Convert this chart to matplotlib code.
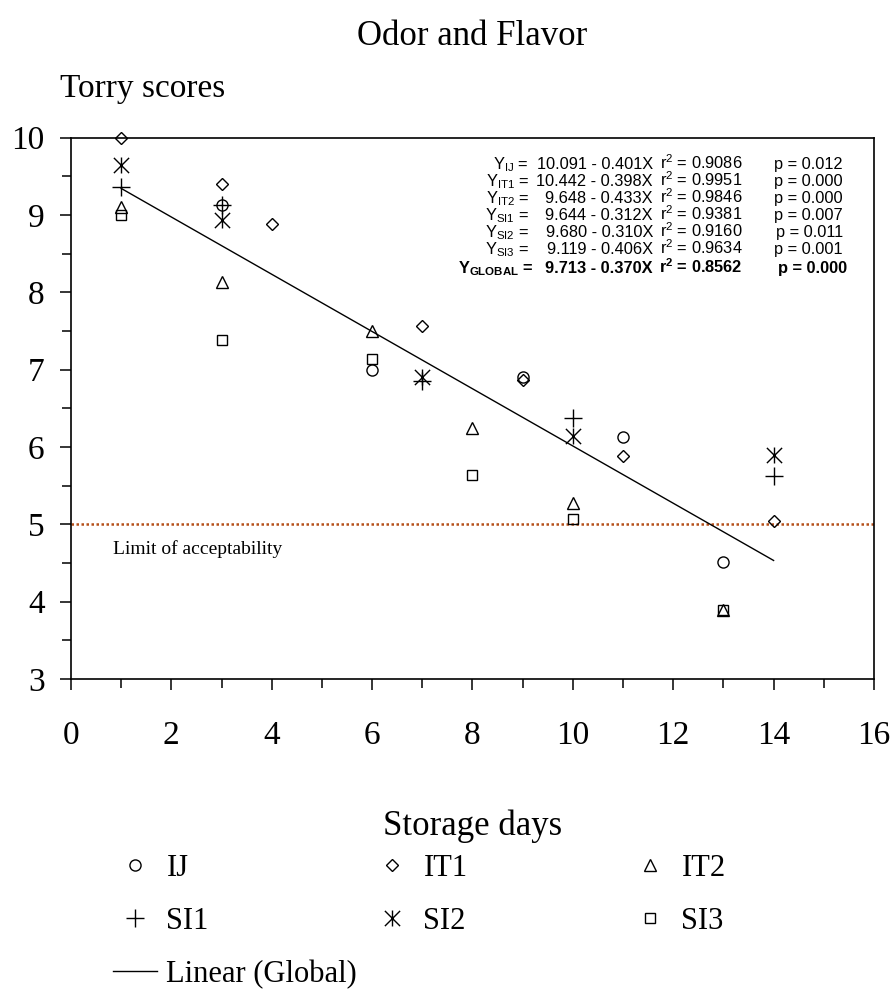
import numpy as np
import matplotlib.pyplot as plt
from matplotlib.path import Path
from matplotlib.ticker import MultipleLocator

plt.rcParams['font.family'] = ['Liberation Serif', 'DejaVu Serif']
plt.rcParams['mathtext.fontset'] = 'custom'
plt.rcParams['mathtext.rm'] = 'Liberation Sans'
plt.rcParams['mathtext.bf'] = 'Liberation Sans:bold'

#%% Data

ij_days = [3, 6, 9, 11, 13]
ij_score = [9.13, 7.00, 6.90, 6.13, 4.51]

it1_days = [1, 3, 4, 7, 9, 11, 14]
it1_score = [10.00, 9.40, 8.88, 7.56, 6.87, 5.88, 5.04]

it2_days = [1, 3, 6, 8, 10, 13]
it2_score = [9.10, 8.13, 7.50, 6.24, 5.27, 3.89]

si1_days = [1, 3, 7, 10, 14]
si1_score = [9.36, 9.13, 6.85, 6.37, 5.62]

si2_days = [1, 3, 7, 10, 14]
si2_score = [9.65, 8.93, 6.91, 6.14, 5.90]

si3_days = [1, 3, 6, 8, 10, 13]
si3_score = [9.00, 7.38, 7.14, 5.64, 5.07, 3.89]

# global regression
global_a = 9.713
global_b = -0.370
fit_days = [1, 14]

limit = 5.0

# regression table
eq_names = ['IJ', 'IT1', 'IT2', 'SI1', 'SI2', 'SI3']
eq_a = ['10.091', '10.442', '9.648', '9.644', '9.680', '9.119']
eq_b = ['0.401', '0.398', '0.433', '0.312', '0.310', '0.406']
eq_r2 = ['0.9086', '0.9951', '0.9846', '0.9381', '0.9160', '0.9634']
eq_p = ['0.012', '0.000', '0.000', '0.007', '0.011', '0.001']
glob_eq = ['GLOBAL', '9.713', '0.370', '0.8562', '0.000']

#%% Figure

# asterisk: an X with a vertical bar through it
star = Path([(-1, -1), (1, 1), (-1, 1), (1, -1), (0, -1.05), (0, 1.05)],
            [Path.MOVETO, Path.LINETO, Path.MOVETO, Path.LINETO,
             Path.MOVETO, Path.LINETO])

fig = plt.figure(figsize=(8.95, 9.89), dpi=100)
ax = fig.add_axes([0.0793, 0.3134, 0.8972, 0.5475])

mk = dict(ls='none', mfc='none', mec='k', mew=1.0, clip_on=False)

ax.axhline(limit, color='#b5501a', ls=(0, (1, 1)), lw=1.8, zorder=1)
ax.text(0.837, 4.62, 'Limit of acceptability', fontsize=14, va='baseline')

h_ij, = ax.plot(ij_days, ij_score, marker='o', ms=8, label='IJ', **mk)
h_it1, = ax.plot(it1_days, it1_score, marker='D', ms=6.3, label='IT1', **mk)
h_it2, = ax.plot(it2_days, it2_score, marker='^', ms=8.5, label='IT2', **mk)
h_si1, = ax.plot(si1_days, si1_score, marker='+', ms=12.5, label='SI1', **mk)
h_si2, = ax.plot(si2_days, si2_score, marker=star, ms=11.5, label='SI2', **mk)
h_si3, = ax.plot(si3_days, si3_score, marker='s', ms=7.5, label='SI3', **mk)

fit_y = [global_a + global_b * d for d in fit_days]
h_lin, = ax.plot(fit_days, fit_y, color='k', lw=1.0, label='Linear (Global)')

ax.set_xlim(0, 16)
ax.set_ylim(3, 10)
ax.xaxis.set_major_locator(MultipleLocator(2))
ax.xaxis.set_minor_locator(MultipleLocator(1))
ax.yaxis.set_major_locator(MultipleLocator(1))
ax.yaxis.set_minor_locator(MultipleLocator(0.5))
ax.tick_params(which='both', direction='out', width=1.1, labelsize=24)
ax.tick_params(which='major', length=8)
ax.tick_params(which='minor', length=6.5)
ax.tick_params(axis='x', pad=22)
ax.tick_params(axis='y', pad=11)
for sp in ax.spines.values():
    sp.set_linewidth(1.2)

ax.set_title('Odor and Flavor', fontsize=25, pad=67)
ax.text(-0.014, 1.0748, 'Torry scores', transform=ax.transAxes,
        fontsize=24, va='baseline', ha='left')
ax.set_xlabel('Storage days', fontsize=25, labelpad=42)

# equations block (axes fraction positions)
def fx(px):
    return (px - 71) / 803.0

def fy(py):
    return (679 - py) / 541.5

rows = [169, 186, 203, 220, 237, 254]
for i in range(len(eq_names)):
    y = fy(rows[i])
    kw = dict(transform=ax.transAxes, fontsize=11.8, va='baseline',
              family='Liberation Sans')
    ax.text(fx(529), y, 'Y$_{\\mathrm{%s}}$ =' % eq_names[i], ha='right', **kw)
    ax.text(fx(653), y, '%s - %sX' % (eq_a[i], eq_b[i]), ha='right', **kw)
    ax.text(fx(660), y, 'r$^{\\mathrm{2}}$ = %s' % eq_r2[i], ha='left', **kw)
    ax.text(fx(843), y, 'p = %s' % eq_p[i], ha='right', **kw)

y = fy(273)
kw = dict(transform=ax.transAxes, fontsize=11.8, va='baseline',
          family='Liberation Sans', fontweight='bold')
ax.text(fx(533), y, 'Y$_{\\mathbf{%s}}$ =' % glob_eq[0], ha='right', **kw)
ax.text(fx(653), y, '%s - %sX' % (glob_eq[1], glob_eq[2]), ha='right', **kw)
ax.text(fx(659), y, 'r$^{\\mathbf{2}}$ = %s' % glob_eq[3], ha='left', **kw)
ax.text(fx(847), y, 'p = %s' % glob_eq[4], ha='right', **kw)

# legend: three columns placed one by one
leg_cols = [[h_ij, h_si1, h_lin], [h_it1, h_si2], [h_it2, h_si3]]
leg_x = [113, 370, 628]
for hs, lx in zip(leg_cols, leg_x):
    fig.legend(handles=hs, labels=[h.get_label() for h in hs],
               loc='upper left', bbox_to_anchor=(lx / 895.0, 1 - 854 / 989.0),
               frameon=False, fontsize=22, borderpad=0, borderaxespad=0,
               handlelength=1.45, handletextpad=0.3, labelspacing=0.78)

fig.savefig('out.png', dpi=100)
